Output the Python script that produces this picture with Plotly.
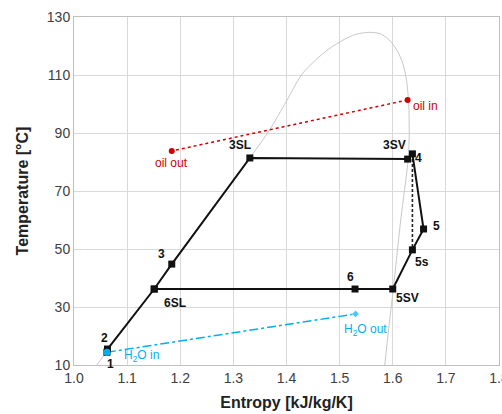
import plotly.graph_objects as go

# Saturation dome
dome_s = [1.043, 1.063, 1.151, 1.184, 1.331, 1.368, 1.400, 1.428, 1.455, 1.480, 1.506, 1.530, 1.556,
          1.577, 1.594, 1.608, 1.619, 1.626, 1.630, 1.631, 1.629, 1.615, 1.601, 1.592, 1.585]
dome_T = [10, 15, 36.2, 44.8, 81.4, 91, 101, 110, 115.2, 119, 122, 124.0, 124.7,
          124.2, 122, 118.5, 114, 108, 100, 90, 81, 60, 36.2, 22, 10]

# Cycle state points
pt_names = ["1", "2", "6SL", "3", "3SL", "3SV", "4", "5", "5s", "5SV", "6", "6SL"]
pt_s = [1.062, 1.063, 1.151, 1.184, 1.331, 1.628, 1.637, 1.658, 1.637, 1.600, 1.529, 1.151]
pt_T = [14.4, 15.5, 36.2, 44.8, 81.4, 81.0, 82.8, 56.9, 49.7, 36.2, 36.2, 36.2]

# Isentropic expansion 4 -> 5s
isen_s = [1.637, 1.637]
isen_T = [82.8, 49.7]

# Heat source (oil) and sink (water)
oil_names = ["oil in", "oil out"]
oil_s = [1.628, 1.184]
oil_T = [101.4, 83.8]
h2o_names = ["H<sub>2</sub>O in", "H<sub>2</sub>O out"]
h2o_s = [1.062, 1.530]
h2o_T = [14.4, 27.6]

x_ticks = [1.0, 1.1, 1.2, 1.3, 1.4, 1.5, 1.6, 1.7, 1.8]
y_ticks = [10, 30, 50, 70, 90, 110, 130]

FONT = "Liberation Sans, Arial, sans-serif"
fig = go.Figure()
fig.add_trace(go.Scatter(x=dome_s, y=dome_T, mode="lines", line=dict(color="#C8C8C8", width=1, shape="spline", smoothing=0.8), hoverinfo="skip"))
fig.add_trace(go.Scatter(x=isen_s, y=isen_T, mode="lines", line=dict(color="#222", width=1.6, dash="3px,2px")))
fig.add_trace(go.Scatter(x=oil_s, y=oil_T, mode="lines+markers", line=dict(color="#D00000", width=1.5, dash="dot"),
                         marker=dict(symbol="circle", size=6, color="#D00000")))
fig.add_trace(go.Scatter(x=h2o_s, y=h2o_T, mode="lines+markers", line=dict(color="#00B0F0", width=1.5, dash="dashdot"),
                         marker=dict(symbol=["circle", "diamond"], size=[7, 6], color="#00B0F0")))
fig.add_trace(go.Scatter(x=pt_s, y=pt_T, mode="lines+markers", line=dict(color="#111", width=2),
                         marker=dict(symbol="square", size=7, color="#111")))
fig.add_trace(go.Scatter(x=h2o_s[:1], y=h2o_T[:1], mode="markers", marker=dict(symbol="circle", size=7, color="#00B0F0")))

# label offsets in pixels
offs = {"1": (4, -12), "2": (-3, 11), "3": (-10, 10), "3SL": (-10, 13), "3SV": (-13, 14), "4": (6, -4),
        "5": (13, 3), "5s": (10, -12), "5SV": (15, -9), "6": (-5, 12)}
done = set()
for n, s, t in zip(pt_names, pt_s, pt_T):
    if n in done:
        continue
    done.add(n)
    dx, dy = offs.get(n, (21, -14))
    fig.add_annotation(x=s, y=t, text=n, showarrow=False, xshift=dx, yshift=dy,
                       font=dict(family=FONT, size=12, color="#111", weight="bold"))
for n, s, t, (dx, dy) in zip(oil_names, oil_s, oil_T, [(18, -6), (0, -12)]):
    fig.add_annotation(x=s, y=t, text=n, showarrow=False, xshift=dx, yshift=dy,
                       font=dict(family=FONT, size=12, color="#D00000"))
for n, s, t, (dx, dy) in zip(h2o_names, h2o_s, h2o_T, [(35, -4), (10, -16)]):
    fig.add_annotation(x=s, y=t, text=n, showarrow=False, xshift=dx, yshift=dy,
                       font=dict(family=FONT, size=12, color="#00B0F0"))

axis_common = dict(showgrid=True, gridcolor="#D9D9D9", gridwidth=1, showline=True, linecolor="#BFBFBF",
                   linewidth=1, mirror=True, zeroline=False, ticks="", automargin=False,
                   ticklabeloverflow="allow",
                   tickfont=dict(family=FONT, size=14, color="#404040"))
fig.update_xaxes(range=[1.0, 1.8], tickvals=x_ticks, ticktext=[f"{v:.1f}" for v in x_ticks],
                 title=dict(text="Entropy [kJ/kg/K]", font=dict(family=FONT, size=16, color="#222", weight="bold"), standoff=12),
                 **axis_common)
fig.update_yaxes(range=[10, 130], tickvals=y_ticks,
                 title=dict(text="Temperature [°C]", font=dict(family=FONT, size=16, color="#222", weight="bold"), standoff=14),
                 **axis_common)
fig.update_layout(width=502, height=414, margin=dict(l=74, r=3, t=17, b=49), showlegend=False,
                  plot_bgcolor="white", paper_bgcolor="white")
fig.write_html("out.html", config={"displayModeBar": False},
               post_script="document.body.style.margin='0';document.body.style.overflow='hidden';")
